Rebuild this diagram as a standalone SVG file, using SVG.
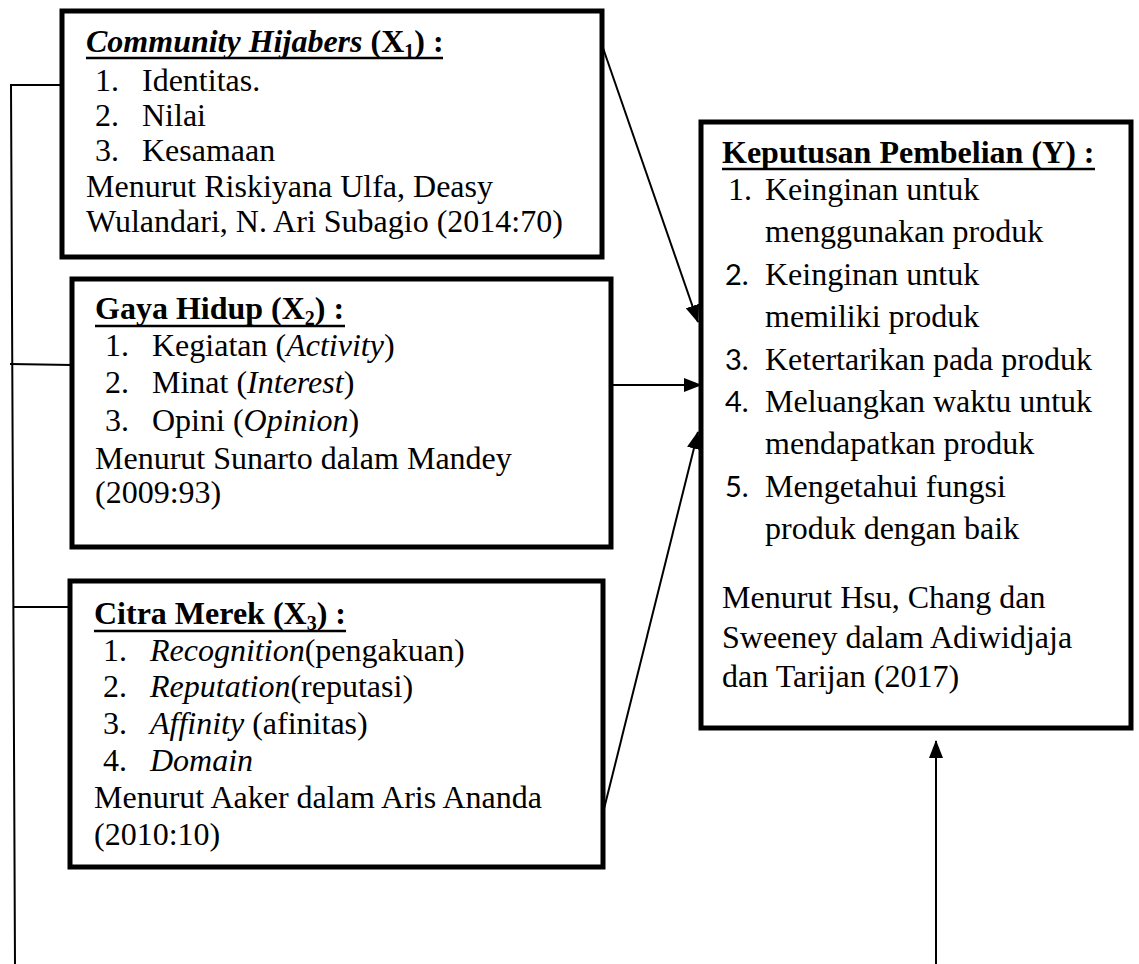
<svg xmlns="http://www.w3.org/2000/svg" width="1139" height="964" viewBox="0 0 1139 964">
<defs>
<style>
.box{fill:#fff;stroke:#000;stroke-width:5}
.t{font-family:"Liberation Serif","Times New Roman",serif;font-size:32px;fill:#000}
.b{font-weight:bold}
.i{font-style:italic}
.sub{font-size:20px}
.n2{font-family:Lato,"Liberation Sans",sans-serif;font-size:29px}
.ul{stroke:#000;stroke-width:2.5}
.ln{stroke:#000;stroke-width:2;fill:none}
</style>
<marker id="ah" markerUnits="userSpaceOnUse" markerWidth="18" markerHeight="14" refX="17" refY="7" orient="auto">
<path d="M0,0 L18,7 L0,14 Z" fill="#000"/>
</marker>
</defs>
<rect width="1139" height="964" fill="#fff"/>

<g id="connectors">
<polyline class="ln" points="62,85 11,85 15,964"/>
<line class="ln" x1="10" y1="364" x2="72" y2="365"/>
<line class="ln" x1="14" y1="607" x2="70" y2="607"/>
<line class="ln" x1="603" y1="48" x2="698" y2="322" marker-end="url(#ah)"/>
<line class="ln" x1="611" y1="385" x2="701" y2="385" marker-end="url(#ah)"/>
<line class="ln" x1="602" y1="817" x2="698" y2="432" marker-end="url(#ah)"/>
<line class="ln" x1="936" y1="964" x2="936" y2="741" marker-end="url(#ah)"/>
</g>

<g id="x1">
<rect class="box" x="62" y="11" width="540" height="246"/>
<text class="t b" x="86" y="52"><tspan class="i">Community Hijabers</tspan> (X<tspan class="sub" dy="6">1</tspan><tspan dy="-6">) :</tspan></text>
<line class="ul" x1="86" y1="58" x2="443" y2="58"/>
<text class="t" x="95" y="91">1.</text><text class="t" x="142" y="91">Identitas.</text>
<text class="t" x="95" y="126">2.</text><text class="t" x="142" y="126">Nilai</text>
<text class="t" x="95" y="161">3.</text><text class="t" x="142" y="161">Kesamaan</text>
<text class="t" x="86" y="197">Menurut Riskiyana Ulfa, Deasy</text>
<text class="t" x="86" y="232">Wulandari, N. Ari Subagio (2014:70)</text>
</g>

<g id="x2">
<rect class="box" x="72" y="279" width="539" height="268"/>
<text class="t b" x="95" y="319">Gaya Hidup (X<tspan class="sub" dy="6">2</tspan><tspan dy="-6">) :</tspan></text>
<line class="ul" x1="95" y1="326" x2="345" y2="326"/>
<text class="t" x="105" y="356">1.</text><text class="t" x="152" y="356">Kegiatan (<tspan class="i">Activity</tspan>)</text>
<text class="t" x="105" y="393">2.</text><text class="t" x="152" y="393">Minat (<tspan class="i">Interest</tspan>)</text>
<text class="t" x="105" y="431">3.</text><text class="t" x="152" y="431">Opini (<tspan class="i">Opinion</tspan>)</text>
<text class="t" x="95" y="469">Menurut Sunarto dalam Mandey</text>
<text class="t" x="95" y="503">(2009:93)</text>
</g>

<g id="x3">
<rect class="box" x="70" y="581" width="533" height="286"/>
<text class="t b" x="94" y="624">Citra Merek (X<tspan class="sub" dy="6">3</tspan><tspan dy="-6">) :</tspan></text>
<line class="ul" x1="94" y1="631" x2="346" y2="631"/>
<text class="t" x="103" y="661">1.</text><text class="t" x="150" y="661"><tspan class="i">Recognition</tspan>(pengakuan)</text>
<text class="t" x="103" y="697">2.</text><text class="t" x="150" y="697"><tspan class="i">Reputation</tspan>(reputasi)</text>
<text class="t" x="103" y="734">3.</text><text class="t" x="150" y="734"><tspan class="i">Affinity</tspan> (afinitas)</text>
<text class="t" x="103" y="771">4.</text><text class="t" x="150" y="771"><tspan class="i">Domain</tspan></text>
<text class="t" x="94" y="808">Menurut Aaker dalam Aris Ananda</text>
<text class="t" x="94" y="845">(2010:10)</text>
</g>

<g id="y">
<rect class="box" x="701" y="122" width="430" height="606"/>
<text class="t b" x="722" y="163">Keputusan Pembelian (Y) :</text>
<line class="ul" x1="722" y1="169" x2="1095" y2="169"/>
<text class="t" x="728" y="200">1.</text><text class="t" x="765" y="200">Keinginan untuk</text>
<text class="t" x="765" y="242">menggunakan produk</text>
<text class="t n2" x="725" y="285">2.</text><text class="t" x="765" y="285">Keinginan untuk</text>
<text class="t" x="765" y="327">memiliki produk</text>
<text class="t n2" x="725" y="370">3.</text><text class="t" x="765" y="370">Ketertarikan pada produk</text>
<text class="t n2" x="725" y="412">4.</text><text class="t" x="765" y="412">Meluangkan waktu untuk</text>
<text class="t" x="765" y="454">mendapatkan produk</text>
<text class="t n2" x="725" y="497">5.</text><text class="t" x="765" y="497">Mengetahui fungsi</text>
<text class="t" x="765" y="539">produk dengan baik</text>
<text class="t" x="722" y="608">Menurut Hsu, Chang dan</text>
<text class="t" x="722" y="648">Sweeney dalam Adiwidjaja</text>
<text class="t" x="722" y="687">dan Tarijan (2017)</text>
</g>
</svg>
